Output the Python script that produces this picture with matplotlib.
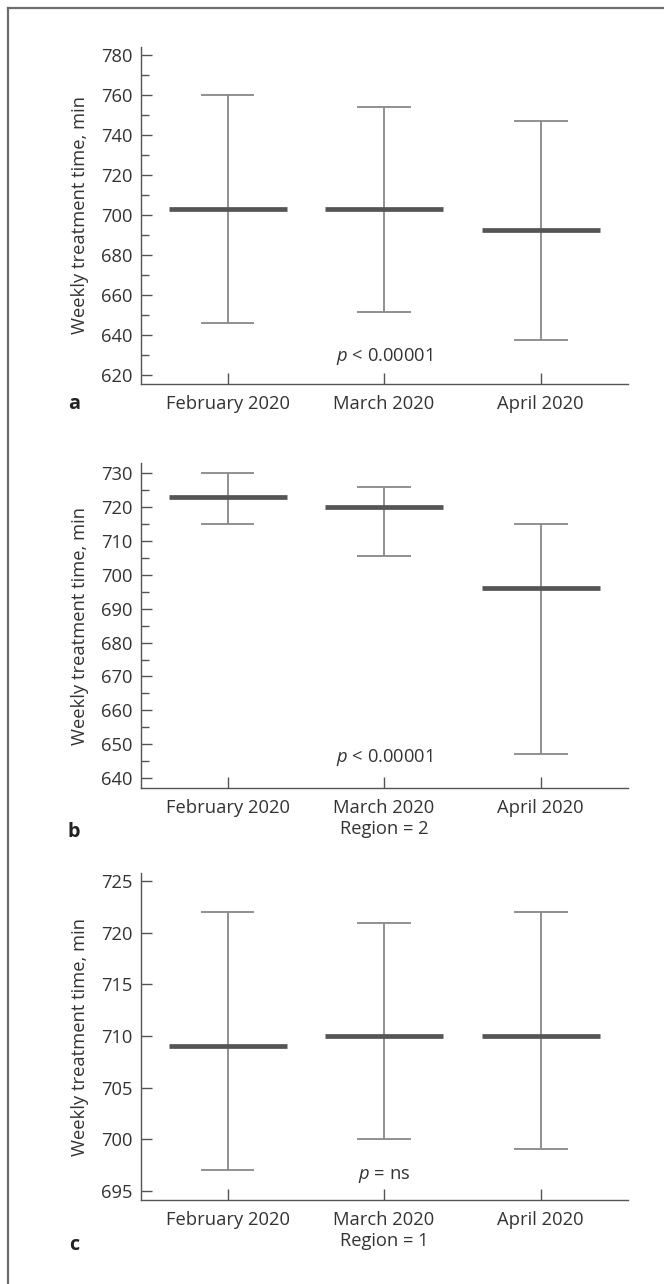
import matplotlib
matplotlib.use("Agg")
import matplotlib.pyplot as plt
from matplotlib.lines import Line2D
from matplotlib.ticker import MultipleLocator

plt.rcParams['font.family'] = ['Open Sans', 'DejaVu Sans']
plt.rcParams['mathtext.fontset'] = 'custom'
plt.rcParams['mathtext.it'] = 'Open Sans:italic'
plt.rcParams['mathtext.rm'] = 'Open Sans'

months = ["February 2020", "March 2020", "April 2020"]

# panel a (all regions)
mean_a = [703, 703, 692.5]
low_a = [646, 651.5, 637.5]
high_a = [760, 754, 747]

# panel b (region 2)
mean_b = [723, 720, 696]
low_b = [715, 705.5, 647]
high_b = [730, 726, 715]

# panel c (region 1)
mean_c = [709, 710, 710]
low_c = [697, 700, 699]
high_c = [722, 721, 722]

panels = [
    dict(mean=mean_a, low=low_a, high=high_a, ylim=(615.5, 784), major=20, minor=10,
         ptext="$p$ < 0.00001", py=629, letter="a", xlabel=None,
         box=[141/664, 1-384/1284, 487/664, (384-46.7)/1284]),
    dict(mean=mean_b, low=low_b, high=high_b, ylim=(637, 733), major=10, minor=5,
         ptext="$p$ < 0.00001", py=646, letter="b", xlabel="Region = 2",
         box=[141/664, 1-788.3/1284, 487/664, (788.3-463)/1284]),
    dict(mean=mean_c, low=low_c, high=high_c, ylim=(694.1, 725.8), major=5, minor=None,
         ptext="$p$ = ns", py=696.4, letter="c", xlabel="Region = 1",
         box=[141/664, 1-1200/1284, 487/664, (1200-873)/1284]),
]

whisk_col = '#888888'
mean_col = '#555555'
axis_col = '#555555'
text_col = '#333333'
fs = 13.2

fig = plt.figure(figsize=(6.64, 12.84), dpi=100)

# frame lines (top and left)
fig.add_artist(Line2D([8/664, 1], [1-8/1284, 1-8/1284], color='#6e6e6e', lw=1.6))
fig.add_artist(Line2D([8/664, 8/664], [0, 1-8/1284], color='#6e6e6e', lw=1.6))

x = [0, 1, 2]
for p in panels:
    ax = fig.add_axes(p['box'])
    ax.vlines(x, p['low'], p['high'], color=whisk_col, lw=1.3, zorder=2)
    ax.hlines(p['low'], [i - 0.172 for i in x], [i + 0.172 for i in x], color=whisk_col, lw=1.3, zorder=2)
    ax.hlines(p['high'], [i - 0.172 for i in x], [i + 0.172 for i in x], color=whisk_col, lw=1.3, zorder=2)
    ax.hlines(p['mean'], [i - 0.377 for i in x], [i + 0.377 for i in x], color=mean_col, lw=3.4, zorder=3)

    ax.set_xlim(-0.553, 2.558)
    ax.set_ylim(*p['ylim'])
    ax.set_xticks(x)
    ax.set_xticklabels(months)
    ax.yaxis.set_major_locator(MultipleLocator(p['major']))
    if p['minor']:
        ax.yaxis.set_minor_locator(MultipleLocator(p['minor']))
    ax.tick_params(axis='both', which='major', direction='in', length=8, width=1,
                   color=axis_col, labelsize=fs, labelcolor=text_col)
    ax.tick_params(axis='y', which='major', pad=6)
    ax.tick_params(axis='x', which='major', pad=8)
    ax.tick_params(axis='y', which='minor', direction='in', length=6, width=1, color=axis_col)
    for s in ['top', 'right']:
        ax.spines[s].set_visible(False)
    for s in ['left', 'bottom']:
        ax.spines[s].set_color(axis_col)
        ax.spines[s].set_linewidth(1.0)
    ax.set_ylabel("Weekly treatment time, min", fontsize=fs, color=text_col)
    ax.yaxis.set_label_coords(-0.107, 0.5)
    if p['xlabel']:
        ax.set_xlabel(p['xlabel'], fontsize=fs, color=text_col, labelpad=2)
    ax.text(1, p['py'], p['ptext'], ha='center', va='center', fontsize=fs, color=text_col)

fig.text(74/664, 1-404/1284, "a", fontsize=fs+1, fontweight='bold', ha='center', va='center', color='#222222')
fig.text(74/664, 1-832/1284, "b", fontsize=fs+1, fontweight='bold', ha='center', va='center', color='#222222')
fig.text(74/664, 1-1245/1284, "c", fontsize=fs+1, fontweight='bold', ha='center', va='center', color='#222222')

fig.savefig("out.png", dpi=100)
